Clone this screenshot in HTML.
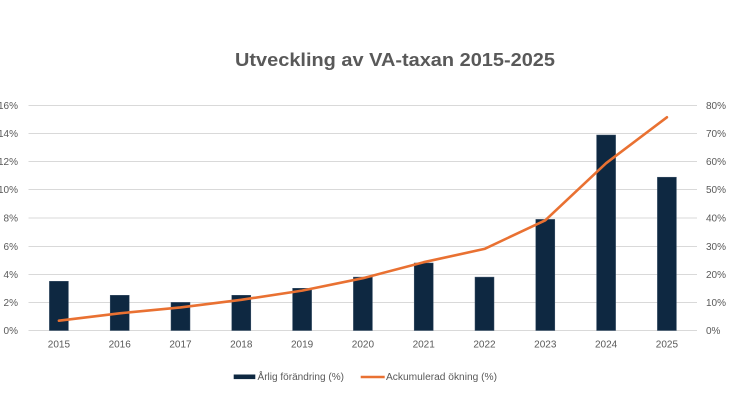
<!DOCTYPE html>
<html>
<head>
<meta charset="utf-8">
<style>
  html,body{margin:0;padding:0;background:#fff;}
  svg{display:block;}
  text{font-family:"Liberation Sans", sans-serif;}
</style>
</head>
<body>
<svg width="736" height="414" viewBox="0 0 736 414" xmlns="http://www.w3.org/2000/svg">
  <rect width="736" height="414" fill="#ffffff"/>
  <!-- Title -->
  <text x="395" y="66" text-anchor="middle" font-size="18" font-weight="bold" fill="#595959" textLength="320" lengthAdjust="spacingAndGlyphs">Utveckling av VA-taxan 2015-2025</text>

  <!-- Gridlines -->
  <g stroke="#D9D9D9" stroke-width="1">
    <line x1="28.5" y1="105.5" x2="697" y2="105.5"/>
    <line x1="28.5" y1="133.5" x2="697" y2="133.5"/>
    <line x1="28.5" y1="161.5" x2="697" y2="161.5"/>
    <line x1="28.5" y1="189.5" x2="697" y2="189.5"/>
    <line x1="28.5" y1="218" x2="697" y2="218"/>
    <line x1="28.5" y1="246.5" x2="697" y2="246.5"/>
    <line x1="28.5" y1="274.5" x2="697" y2="274.5"/>
    <line x1="28.5" y1="302.5" x2="697" y2="302.5"/>
    <line x1="28.5" y1="330.5" x2="697" y2="330.5"/>
  </g>

  <!-- Left axis labels -->
  <g font-size="10" fill="#595959" text-anchor="end">
    <text x="18" y="109">16%</text>
    <text x="18" y="137">14%</text>
    <text x="18" y="165">12%</text>
    <text x="18" y="193">10%</text>
    <text x="18" y="221.5">8%</text>
    <text x="18" y="250">6%</text>
    <text x="18" y="278">4%</text>
    <text x="18" y="306">2%</text>
    <text x="18" y="334">0%</text>
  </g>

  <!-- Right axis labels -->
  <g font-size="10" fill="#595959" text-anchor="start">
    <text x="706" y="109">80%</text>
    <text x="706" y="137">70%</text>
    <text x="706" y="165">60%</text>
    <text x="706" y="193">50%</text>
    <text x="706" y="221.5">40%</text>
    <text x="706" y="250">30%</text>
    <text x="706" y="278">20%</text>
    <text x="706" y="306">10%</text>
    <text x="706" y="334">0%</text>
  </g>

  <!-- Bars -->
  <g fill="#0E2841" stroke="#3a5068" stroke-width="0.5">
    <rect x="49.4" y="281.3" width="19" height="49.2"/>
    <rect x="110.2" y="295.3" width="19" height="35.2"/>
    <rect x="171.0" y="302.4" width="19" height="28.1"/>
    <rect x="231.8" y="295.3" width="19" height="35.2"/>
    <rect x="292.6" y="288.3" width="19" height="42.2"/>
    <rect x="353.4" y="277.1" width="19" height="53.4"/>
    <rect x="414.2" y="263.0" width="19" height="67.5"/>
    <rect x="475.0" y="277.1" width="19" height="53.4"/>
    <rect x="535.8" y="219.4" width="19" height="111.1"/>
    <rect x="596.6" y="135.0" width="19" height="195.5"/>
    <rect x="657.4" y="177.2" width="19" height="153.3"/>
  </g>

  <!-- Line -->
  <polyline fill="none" stroke="#E97132" stroke-width="2.6" stroke-linejoin="round" stroke-linecap="round"
    points="58.9,320.7 119.7,313.3 180.5,307.4 241.3,299.8 302.1,290.6 362.9,278.2 423.7,262.2 484.5,248.9 545.3,220.3 606.1,163.2 666.9,117.3"/>

  <!-- X labels -->
  <g font-size="10" fill="#595959" text-anchor="middle">
    <text x="58.9" y="347.5">2015</text>
    <text x="119.7" y="347.5">2016</text>
    <text x="180.5" y="347.5">2017</text>
    <text x="241.3" y="347.5">2018</text>
    <text x="302.1" y="347.5">2019</text>
    <text x="362.9" y="347.5">2020</text>
    <text x="423.7" y="347.5">2021</text>
    <text x="484.5" y="347.5">2022</text>
    <text x="545.3" y="347.5">2023</text>
    <text x="606.1" y="347.5">2024</text>
    <text x="666.9" y="347.5">2025</text>
  </g>

  <!-- Legend -->
  <rect x="233.7" y="374.5" width="21.6" height="4.6" fill="#0E2841"/>
  <text x="257.5" y="380" font-size="10" fill="#595959" textLength="86.5" lengthAdjust="spacingAndGlyphs">Årlig förändring (%)</text>
  <line x1="360.7" y1="377" x2="384.7" y2="377" stroke="#E97132" stroke-width="2.4"/>
  <text x="386" y="380" font-size="10" fill="#595959" textLength="111" lengthAdjust="spacingAndGlyphs">Ackumulerad ökning (%)</text>
</svg>
</body>
</html>
